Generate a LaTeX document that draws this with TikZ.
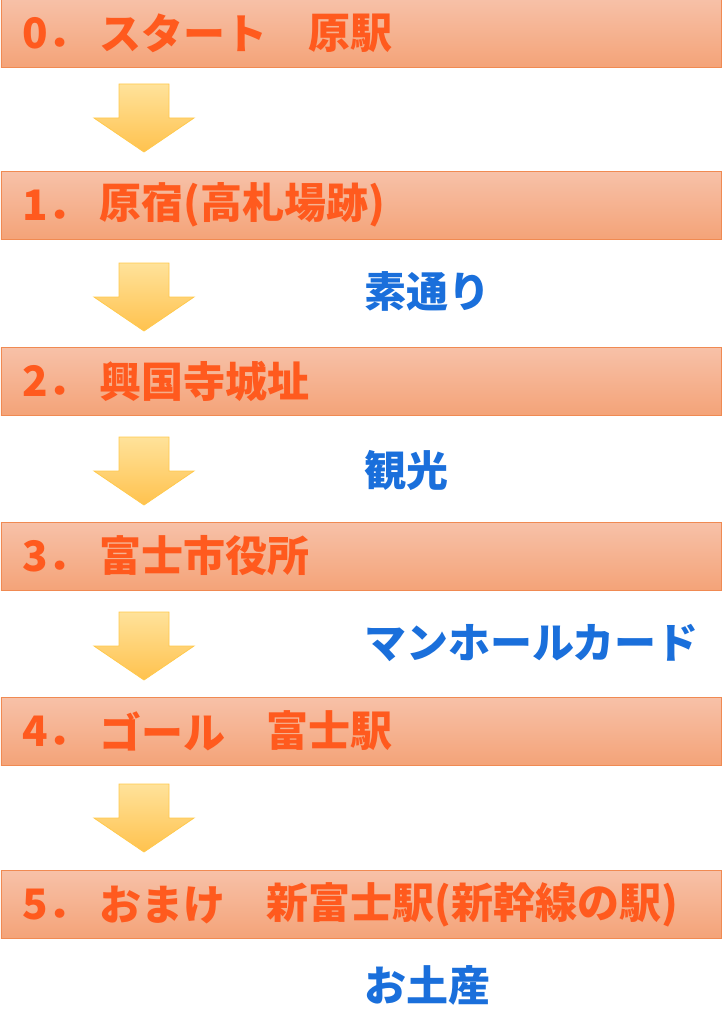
\documentclass[tikz,border=0pt]{standalone}
\usepackage{fontspec}
\setmainfont{Noto Sans CJK JP}
\definecolor{bartop}{HTML}{F7C1A8}
\definecolor{barbot}{HTML}{F4A378}
\definecolor{barline}{HTML}{F08A52}
\definecolor{stepred}{HTML}{FF5A1E}
\definecolor{noteblue}{HTML}{1A6FDB}
\definecolor{arrtop}{HTML}{FFE29A}
\definecolor{arrbot}{HTML}{FFC24E}
\definecolor{arrline}{HTML}{FFC94D}
\tikzset{
  stepbar/.style={draw=barline, line width=0.8pt, top color=bartop, bottom color=barbot,
    minimum width=720pt, minimum height=68pt, inner sep=0pt, anchor=north west},
  steptext/.style={anchor=west, inner sep=0pt, text=stepred, font=\fontsize{42}{46}\selectfont\bfseries},
  notetext/.style={anchor=west, inner sep=0pt, text=noteblue, font=\fontsize{42}{46}\selectfont\bfseries},
  downarrow/.style={draw=arrline, line width=0.8pt, top color=arrtop, bottom color=arrbot, line join=miter}
}
\begin{document}
\begin{tikzpicture}[x=1pt,y=-1pt]
\useasboundingbox (0,0) rectangle (722,1024);
% bars
\node[stepbar, minimum height=69pt] (b0) at (0.5,-2) {};
\node[stepbar] (b1) at (0.5,171) {};
\node[stepbar] (b2) at (0.5,347) {};
\node[stepbar] (b3) at (0.5,522) {};
\node[stepbar] (b4) at (0.5,697) {};
\node[stepbar] (b5) at (0.5,870) {};
% step labels
\node[steptext] (n0) at (22,33) {0．};
\node[steptext] (t0) at (99,33) {スタート};
\node[steptext] (u0) at (308,33) {原駅};
\node[steptext] (n1) at (22,205) {1．};
\node[steptext] (t1) at (99,205) {原宿(高札場跡)};
\node[steptext] (n2) at (22,381) {2．};
\node[steptext] (t2) at (99,381) {興国寺城址};
\node[steptext] (n3) at (22,556) {3．};
\node[steptext] (t3) at (99,556) {富士市役所};
\node[steptext] (n4) at (22,731) {4．};
\node[steptext] (t4) at (99,731) {ゴール};
\node[steptext] (u4) at (266,731) {富士駅};
\node[steptext] (n5) at (22,905) {5．};
\node[steptext] (t5) at (99,905) {おまけ};
\node[steptext] (u5) at (266,905) {新富士駅(新幹線の駅)};
% notes
\node[notetext] (m1) at (364,291) {素通り};
\node[notetext] (m2) at (364,470) {観光};
\node[notetext] (m3) at (364,643) {マンホールカード};
\node[notetext] (m4) at (364,985) {お土産};
% arrows
\foreach \t in {84,263,437,612,784}{
  \path[downarrow] (119,\t) -- (169,\t) -- (169,\t+34) -- (194,\t+34) -- (144,\t+68)
    -- (94,\t+34) -- (119,\t+34) -- cycle;
}
\end{tikzpicture}
\end{document}
